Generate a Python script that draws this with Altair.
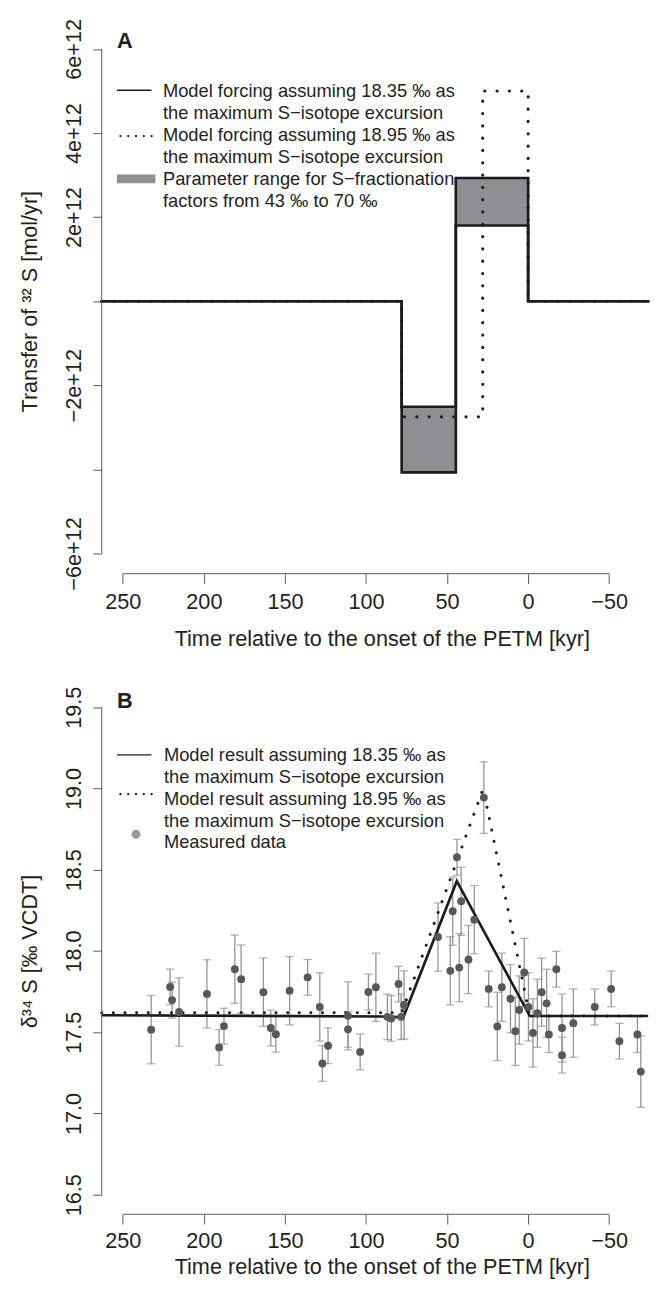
import altair as alt
import pandas as pd

FONT = "Liberation Sans"
TXT = "#231f20"
AXC = "#5b5b5b"
LINE = "#1c1c1c"
BOXFILL = "#8e8f92"
PTFILL = "#58585a"
ERRC = "#939393"
LEGDOT = "#9b9b9b"

W = 555
HA = 553.5
HB = 534.8

# ---------------- shared x axis ----------------
x_ticks = [250, 200, 150, 100, 50, 0, -50]
x_domain = [263, -74]
x_title = "Time relative to the onset of the PETM [kyr]"

# ---------------- panel A data ----------------
a_y_ticks = [-6e12, -4e12, -2e12, 0.0, 2e12, 4e12, 6e12]
a_y_labeled = [6e12, 4e12, 2e12, -2e12, -6e12]
a_y_domain = [-6.48e12, 6.48e12]

step_t = [263, 78, 78, 44.6, 44.6, 0, 0, -74]
forcing_outer = [0, 0, -4.07e12, -4.07e12, 2.93e12, 2.93e12, 0, 0]
forcing_inner = [0, 0, -2.51e12, -2.51e12, 1.80e12, 1.80e12, 0, 0]
dotted_t = [263, 78, 78, 28, 28, 0, 0, -74]
forcing_dotted = [0, 0, -2.75e12, -2.75e12, 5.0e12, 5.0e12, 0, 0]

box_t0 = [78, 44.6]
box_t1 = [44.6, 0]
box_lo = [-4.07e12, 1.80e12]
box_hi = [-2.51e12, 2.93e12]

legend_a = [
    "Model forcing assuming 18.35 \u2030 as",
    "the maximum S\u2212isotope excursion",
    "Model forcing assuming 18.95 \u2030 as",
    "the maximum S\u2212isotope excursion",
    "Parameter range for S\u2212fractionation",
    "factors from 43 \u2030 to 70 \u2030",
]

# ---------------- panel B data ----------------
b_y_ticks = [16.5, 17.0, 17.5, 18.0, 18.5, 19.0, 19.5]
b_y_domain = [16.38, 19.62]

solid_t = [263, 90, 77, 44, -1, -74]
solid_v = [17.605, 17.597, 17.592, 18.43, 17.60, 17.60]
dot_t = [263, 78, 27.7, -1, -74]
dot_v = [17.62, 17.62, 19.0, 17.60, 17.60]

meas_t = [232.5, 220.8, 219.6, 215.3, 198.1, 190.6, 187.6, 180.9, 177.0, 163.3,
          158.7, 155.6, 147.1, 136.0, 128.5, 126.9, 123.4, 111.1, 111.1, 103.6,
          98.5, 93.9, 86.8, 84.4, 79.9, 78.3, 76.5, 55.6, 48.0, 46.5,
          43.9, 42.5, 41.3, 36.8, 33.2, 27.3, 24.3, 19.0, 16.2, 10.9,
          7.9, 5.5, 2.4, -0.2, -3.0, -5.7, -8.3, -11.4, -12.8, -17.4,
          -20.9, -20.9, -27.9, -41.1, -51.2, -56.3, -67.4, -69.5]
meas_v = [17.516, 17.779, 17.698, 17.625, 17.736, 17.407, 17.538, 17.888, 17.827, 17.747,
          17.526, 17.488, 17.756, 17.838, 17.656, 17.308, 17.417, 17.601, 17.518, 17.379,
          17.748, 17.777, 17.595, 17.585, 17.797, 17.595, 17.668, 18.086, 17.878, 18.245,
          18.577, 17.898, 18.306, 17.948, 18.193, 18.944, 17.767, 17.536, 17.777, 17.706,
          17.506, 17.637, 17.868, 17.656, 17.496, 17.617, 17.747, 17.678, 17.486, 17.888,
          17.526, 17.359, 17.556, 17.656, 17.767, 17.445, 17.486, 17.258]
meas_err = [0.21, 0.11, 0.11, 0.21, 0.21, 0.11, 0.11, 0.21, 0.21, 0.21,
            0.11, 0.11, 0.21, 0.11, 0.21, 0.11, 0.11, 0.21, 0.11, 0.11,
            0.11, 0.21, 0.14, 0.14, 0.11, 0.14, 0.21, 0.21, 0.21, 0.21,
            0.11, 0.21, 0.21, 0.21, 0.21, 0.22, 0.11, 0.21, 0.21, 0.21,
            0.21, 0.21, 0.21, 0.21, 0.21, 0.21, 0.21, 0.21, 0.11, 0.11,
            0.21, 0.11, 0.21, 0.11, 0.11, 0.11, 0.11, 0.22]

legend_b = [
    "Model result assuming 18.35 \u2030 as",
    "the maximum S\u2212isotope excursion",
    "Model result assuming 18.95 \u2030 as",
    "the maximum S\u2212isotope excursion",
    "Measured data",
]

# ---------------- helpers ----------------
xscale = alt.Scale(domain=x_domain, nice=False, zero=False)


def x_axis(label_pad, title_y):
    return alt.Axis(values=x_ticks, domain=False, grid=False, tickSize=10,
                    tickColor=AXC, tickWidth=1, labelFontSize=22, labelFont=FONT,
                    labelColor=TXT, labelBaseline="alphabetic", labelPadding=label_pad,
                    labelFlush=False, labelOverlap=False, labelBound=False,
                    title=x_title, titleFont=FONT, titleFontSize=22,
                    titleFontWeight="normal", titleColor=TXT, titleBaseline="alphabetic",
                    titleY=title_y, titleX=284.5, titleAnchor="start", titleAlign="center")


def y_axis(values, title, label_expr=None, fmt=None):
    kw = dict(values=values, domain=False, grid=False, tickSize=9, tickColor=AXC,
              tickWidth=1, labelFontSize=22, labelFont=FONT, labelColor=TXT,
              labelAngle=270, labelAlign="center", labelBaseline="alphabetic",
              labelPadding=12.5, labelFlush=False, labelOverlap=False, labelBound=False,
              title=title, titleFont=FONT, titleFontSize=22, titleFontWeight="normal",
              titleColor=TXT, titleAngle=270, titleBaseline="alphabetic", titleX=-66.2)
    if label_expr is not None:
        kw["labelExpr"] = label_expr
    if fmt is not None:
        kw["format"] = fmt
    return alt.Axis(**kw)


one = pd.DataFrame({"k": [0]})


def text_layer(txt, x, y, size=18.6, weight="normal"):
    return alt.Chart(one).mark_text(
        text=txt, align="left", baseline="alphabetic", font=FONT, fontSize=size,
        fontWeight=weight, color=TXT
    ).encode(x=alt.value(x), y=alt.value(y))


# ---------------- panel A ----------------
xa = x_axis(25.3, 73.3)
cond = " || ".join("datum.value == %r" % v for v in a_y_labeled)
ya_axis = y_axis(a_y_ticks, "Transfer of \u00b3\u00b2 S [mol/yr]",
                 label_expr="(%s) ? format(datum.value / 1e12, 'd') + 'e+12' : ''" % cond)
yscaleA = alt.Scale(domain=a_y_domain, nice=False, zero=False)

boxes = pd.DataFrame({"t0": box_t0, "t1": box_t1, "lo": box_lo, "hi": box_hi})
steps = pd.DataFrame({"t": step_t * 2,
                      "y": forcing_outer + forcing_inner,
                      "g": ["outer"] * len(step_t) + ["inner"] * len(step_t),
                      "i": list(range(len(step_t))) * 2})
dsteps = pd.DataFrame({"t": dotted_t, "y": forcing_dotted, "i": list(range(len(dotted_t)))})

rectA = alt.Chart(boxes).mark_rect(color=BOXFILL).encode(
    x=alt.X("t0:Q", scale=xscale, axis=xa),
    x2="t1:Q",
    y=alt.Y("lo:Q", scale=yscaleA, axis=ya_axis),
    y2="hi:Q",
)
solidA = alt.Chart(steps).mark_line(color=LINE, strokeWidth=2.7, strokeJoin="miter",
                                     strokeCap="square").encode(
    x=alt.X("t:Q", scale=xscale, axis=xa),
    y=alt.Y("y:Q", scale=yscaleA, axis=ya_axis),
    detail="g:N",
    order="i:Q",
)
dotA = alt.Chart(dsteps).mark_line(color=LINE, strokeWidth=3.2, strokeCap="round",
                                    strokeDash=[0.1, 12.4]).encode(
    x=alt.X("t:Q", scale=xscale, axis=xa),
    y=alt.Y("y:Q", scale=yscaleA, axis=ya_axis),
    order="i:Q",
)
xlineA = alt.Chart(one).mark_rule(color=AXC, strokeWidth=1).encode(
    x=alt.X(datum=x_ticks[0], scale=xscale, axis=xa),
    x2=alt.X2(datum=x_ticks[-1]),
    y=alt.value(HA),
)
ylineA = alt.Chart(one).mark_rule(color=AXC, strokeWidth=1).encode(
    y=alt.Y(datum=a_y_ticks[0], scale=yscaleA, axis=ya_axis),
    y2=alt.Y2(datum=a_y_ticks[-1]),
    x=alt.value(0),
)

legA = [
    alt.Chart(one).mark_rule(color=LINE, strokeWidth=1.4).encode(
        x=alt.value(15.5), x2=alt.value(50.5), y=alt.value(62.4)),
    alt.Chart(one).mark_rule(color=LINE, strokeWidth=2.3, strokeCap="round",
                             strokeDash=[0.1, 7.8]).encode(
        x=alt.value(19.0), x2=alt.value(51.0), y=alt.value(109.0)),
    alt.Chart(one).mark_rect(color=BOXFILL).encode(
        x=alt.value(15.5), x2=alt.value(54.5), y=alt.value(148.0), y2=alt.value(157.0)),
]
legA += [text_layer(s, 62.2, 69.7 + 22.34 * k) for k, s in enumerate(legend_a)]
legA.append(text_layer("A", 15.5, 19.7, size=22, weight="bold"))

panelA = alt.layer(rectA, solidA, dotA, xlineA, ylineA, *legA).properties(width=W, height=HA)

# ---------------- panel B ----------------
xb = x_axis(24.0, 60.5)
yb_axis = y_axis(b_y_ticks, "\u03b4\u00b3\u2074 S [\u2030 VCDT]", fmt=".1f")
yscaleB = alt.Scale(domain=b_y_domain, nice=False, zero=False)

meas = pd.DataFrame({"t": meas_t, "v": meas_v, "e": meas_err})
meas["lo"] = meas["v"] - meas["e"]
meas["hi"] = meas["v"] + meas["e"]
solidB_df = pd.DataFrame({"t": solid_t, "v": solid_v, "i": list(range(len(solid_t)))})
dotB_df = pd.DataFrame({"t": dot_t, "v": dot_v, "i": list(range(len(dot_t)))})

errB = alt.Chart(meas).mark_rule(color=ERRC, strokeWidth=1.3).encode(
    x=alt.X("t:Q", scale=xscale, axis=xb),
    y=alt.Y("lo:Q", scale=yscaleB, axis=yb_axis),
    y2="hi:Q",
)
capLo = alt.Chart(meas).mark_tick(color=ERRC, thickness=1.3, size=8.5,
                                  orient="horizontal").encode(
    x=alt.X("t:Q", scale=xscale, axis=xb),
    y=alt.Y("lo:Q", scale=yscaleB, axis=yb_axis),
)
capHi = alt.Chart(meas).mark_tick(color=ERRC, thickness=1.3, size=8.5,
                                  orient="horizontal").encode(
    x=alt.X("t:Q", scale=xscale, axis=xb),
    y=alt.Y("hi:Q", scale=yscaleB, axis=yb_axis),
)
solidB = alt.Chart(solidB_df).mark_line(color=LINE, strokeWidth=2.7).encode(
    x=alt.X("t:Q", scale=xscale, axis=xb),
    y=alt.Y("v:Q", scale=yscaleB, axis=yb_axis),
    order="i:Q",
)
dotB = alt.Chart(dotB_df).mark_line(color=LINE, strokeWidth=3.0, strokeCap="round",
                                     strokeDash=[0.1, 11.7]).encode(
    x=alt.X("t:Q", scale=xscale, axis=xb),
    y=alt.Y("v:Q", scale=yscaleB, axis=yb_axis),
    order="i:Q",
)
ptsB = alt.Chart(meas).mark_circle(color=PTFILL, opacity=1, size=64).encode(
    x=alt.X("t:Q", scale=xscale, axis=xb),
    y=alt.Y("v:Q", scale=yscaleB, axis=yb_axis),
)
xlineB = alt.Chart(one).mark_rule(color=AXC, strokeWidth=1).encode(
    x=alt.X(datum=x_ticks[0], scale=xscale, axis=xb),
    x2=alt.X2(datum=x_ticks[-1]),
    y=alt.value(HB),
)
ylineB = alt.Chart(one).mark_rule(color=AXC, strokeWidth=1).encode(
    y=alt.Y(datum=b_y_ticks[0], scale=yscaleB, axis=yb_axis),
    y2=alt.Y2(datum=b_y_ticks[-1]),
    x=alt.value(0),
)
legB = [
    alt.Chart(one).mark_rule(color=LINE, strokeWidth=1.4).encode(
        x=alt.value(15.5), x2=alt.value(50.5), y=alt.value(68.1)),
    alt.Chart(one).mark_rule(color=LINE, strokeWidth=2.3, strokeCap="round",
                             strokeDash=[0.1, 7.8]).encode(
        x=alt.value(19.0), x2=alt.value(51.0), y=alt.value(108.1)),
    alt.Chart(one).mark_circle(color=LEGDOT, opacity=1, size=80).encode(
        x=alt.value(34.8), y=alt.value(148.8)),
]
legB += [text_layer(s, 63.2, 74.8 + 22.1 * k) for k, s in enumerate(legend_b)]
legB.append(text_layer("B", 15.5, 20.5, size=22, weight="bold"))

panelB = alt.layer(errB, capLo, capHi, solidB, dotB, ptsB, xlineB, ylineB, *legB).properties(
    width=W, height=HB)

SP = 36.4
chart = alt.vconcat(panelA, panelB, spacing=SP).properties(
    padding={"left": 10.2, "top": 0, "right": 0, "bottom": 0},
    background="white",
).configure_view(stroke=None).configure_concat(spacing=SP)

chart.save("out.html", embed_options={"renderer": "svg", "actions": False})
